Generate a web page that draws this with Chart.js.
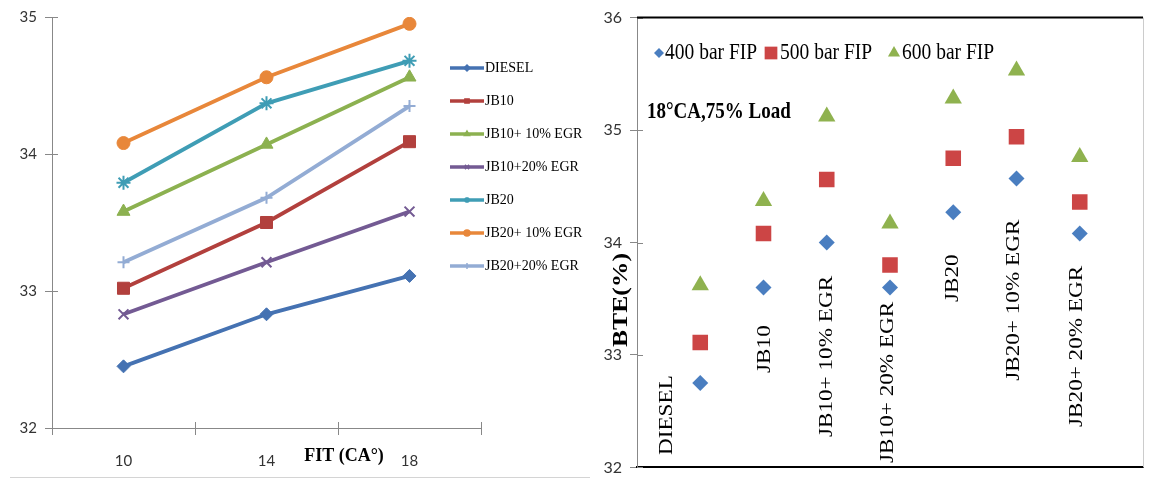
<!DOCTYPE html>
<html>
<head>
<meta charset="utf-8">
<script src="https://cdn.jsdelivr.net/npm/chart.js@4.4.1/dist/chart.umd.min.js"></script>
<style>
html,body{margin:0;padding:0;background:#fff;}
#wrap{position:relative;width:1154px;height:479px;overflow:hidden;background:#fff;}
#left{position:absolute;left:0;top:0;}
#right{position:absolute;left:590px;top:0;}
#rule{position:absolute;left:10px;top:477px;width:580px;height:1px;background:#d4d4d4;}
</style>
</head>
<body>
<div id="wrap">
  <canvas id="left" width="590" height="479"></canvas>
  <canvas id="right" width="564" height="485"></canvas>
  <div id="rule"></div>
</div>
<script>
// left chart: BTE vs FIT
const fitLabels = ['10','14','18'];
const leftNames = ['DIESEL','JB10','JB10+ 10% EGR','JB10+20% EGR','JB20','JB20+ 10% EGR','JB20+20% EGR'];
const diesel    = [32.45, 32.83, 33.11];
const jb10      = [33.02, 33.50, 34.09];
const jb10egr10 = [33.58, 34.07, 34.56];
const jb10egr20 = [32.83, 33.21, 33.58];
const jb20      = [33.79, 34.37, 34.68];
const jb20egr10 = [34.08, 34.56, 34.95];
const jb20egr20 = [33.21, 33.68, 34.35];

// right chart: BTE per fuel at 18 CA
const fuelLabels = ['DIESEL','JB10','JB10+ 10% EGR','JB10+ 20% EGR','JB20','JB20+ 10% EGR','JB20+ 20% EGR'];
const fip400 = [32.75, 33.60, 34.00, 33.60, 34.27, 34.57, 34.08];
const fip500 = [33.11, 34.08, 34.56, 33.80, 34.75, 34.94, 34.36];
const fip600 = [33.62, 34.37, 35.12, 34.17, 35.28, 35.53, 34.76];
const labelAt   = [0.48, 2.03, 3.0, 3.97, 5.0, 5.96, 6.95];
const labelBase = [32.11, 32.84, 32.27, 32.04, 33.47, 32.77, 32.36];

const SERIF = '"Liberation Serif","Times New Roman",serif';
const SANS = 'Lato, "Liberation Sans", sans-serif';
const SY = 1.22; // right picture is taller than wide

const leftSets = [
  {name:leftNames[0], data:diesel,    color:'#4572B2', style:'rectRot',  r:6.5, bw:1},
  {name:leftNames[1], data:jb10,      color:'#B2403D', style:'rect',     r:8.5, bw:1},
  {name:leftNames[2], data:jb10egr10, color:'#8CB150', style:'triangle', r:7.5, bw:1},
  {name:leftNames[3], data:jb10egr20, color:'#735A93', style:'crossRot', r:7,   bw:2},
  {name:leftNames[4], data:jb20,      color:'#3F9DB5', style:'star',     r:7,   bw:2},
  {name:leftNames[5], data:jb20egr10, color:'#E8873A', style:'circle',   r:6.5, bw:1},
  {name:leftNames[6], data:jb20egr20, color:'#93ACD4', style:'cross',    r:6,   bw:2}
];

function stretchText(ctx, t, x, y, font, rot, align, sy){
  ctx.save();
  ctx.translate(x, y);
  ctx.scale(1, sy);
  ctx.rotate(rot);
  ctx.font = font;
  ctx.textAlign = align;
  ctx.textBaseline = 'middle';
  ctx.fillStyle = '#000';
  ctx.fillText(t, 0, 0);
  ctx.restore();
}

// tick marks in the source cross the axis line, so add the inner half
function innerTicks(chart, withX){
  const {ctx, chartArea:a, scales:{x, y}} = chart;
  ctx.save();
  ctx.strokeStyle = '#888'; ctx.lineWidth = 1;
  ctx.beginPath();
  y.ticks.forEach(t=>{
    const py = Math.round(y.getPixelForValue(t.value)) + 0.5;
    ctx.moveTo(a.left, py); ctx.lineTo(a.left + 6, py);
  });
  if (withX) {
    for (let i = 0; i <= x.ticks.length; i++) {
      const px = Math.round(x.getPixelForValue(i - 0.5)) + 0.5;
      ctx.moveTo(px, a.bottom); ctx.lineTo(px, a.bottom - 6);
    }
  }
  ctx.stroke();
  ctx.restore();
}

const leftDeco = {
  id:'leftDeco',
  afterDraw(chart){
    const ctx = chart.ctx;
    innerTicks(chart, true);
    leftSets.forEach((s,i)=>{
      const y = 68 + i*33;
      ctx.save();
      ctx.strokeStyle = s.color; ctx.fillStyle = s.color; ctx.lineWidth = 3.5;
      ctx.beginPath(); ctx.moveTo(450,y); ctx.lineTo(484,y); ctx.stroke();
      ctx.lineWidth = 1.5;
      Chart.helpers.drawPoint(ctx, {pointStyle:s.style, radius:3, borderWidth:1.5, rotation:0}, 467, y);
      ctx.restore();
      stretchText(ctx, s.name, 485, y, '14px '+SERIF, 0, 'left', 1.1);
    });
    stretchText(ctx, 'FIT (CA°)', 344, 456, 'bold 18px '+SERIF, 0, 'center', 1.05);
  }
};

new Chart(document.getElementById('left'), {
  type:'line',
  data:{
    labels:fitLabels,
    datasets:leftSets.map(s=>({
      label:s.name, data:s.data, borderColor:s.color, backgroundColor:s.color,
      borderWidth:3.8, pointStyle:s.style, pointRadius:s.r, pointBorderWidth:s.bw, tension:0
    }))
  },
  options:{
    responsive:false, animation:false,
    layout:{padding:{left:0,right:109,top:16,bottom:0}},
    plugins:{legend:{display:false}, tooltip:{enabled:false}},
    scales:{
      x:{offset:true,
         grid:{offset:true, drawOnChartArea:false, tickLength:7, color:'#888'},
         border:{color:'#888'},
         ticks:{font:{family:SANS,size:15}, color:'#333', padding:17},
         afterFit:s=>{s.height=51;}},
      y:{min:32, max:35,
         ticks:{stepSize:1, font:{family:SANS,size:15}, color:'#333', padding:8},
         grid:{drawOnChartArea:false, tickLength:7, color:'#888'},
         border:{color:'#888'},
         afterFit:s=>{s.width=52;}}
    }
  },
  plugins:[leftDeco]
});

const rightDeco = {
  id:'rightDeco',
  afterDraw(chart){
    const {ctx, chartArea:a, scales:{x, y}} = chart;
    innerTicks(chart, false);
    ctx.save();
    ctx.strokeStyle = '#000'; ctx.lineWidth = 2;
    ctx.beginPath(); ctx.moveTo(a.left, a.top); ctx.lineTo(a.right, a.top); ctx.stroke();
    ctx.strokeStyle = '#ccc'; ctx.lineWidth = 1;
    ctx.beginPath(); ctx.moveTo(a.right+0.5, a.top); ctx.lineTo(a.right+0.5, a.bottom); ctx.stroke();
    ctx.restore();

    fuelLabels.forEach((t,i)=>{
      stretchText(ctx, t, x.getPixelForValue(labelAt[i]), y.getPixelForValue(labelBase[i]),
        '19px '+SERIF, -Math.PI/2, 'left', SY);
    });

    // legend
    const items = [
      {t:'400 bar FIP', c:'#4A7EC0', s:'rectRot', r:5,   mx:69,  tx:75},
      {t:'500 bar FIP', c:'#CC4545', s:'rect',    r:9,   mx:181, tx:190},
      {t:'600 bar FIP', c:'#8FB24F', s:'triangle',r:7,   mx:304, tx:312}
    ];
    items.forEach(it=>{
      ctx.save();
      ctx.fillStyle = it.c; ctx.strokeStyle = it.c;
      Chart.helpers.drawPoint(ctx, {pointStyle:it.s, radius:it.r, borderWidth:0, rotation:0}, it.mx, 53);
      ctx.restore();
      stretchText(ctx, it.t, it.tx, 53, '19.5px '+SERIF, 0, 'left', SY);
    });

    stretchText(ctx, '18°CA,75% Load', 57, 112, 'bold 19px '+SERIF, 0, 'left', SY);
    stretchText(ctx, 'BTE(%)', 32, 300, 'bold 21px '+SERIF, -Math.PI/2, 'center', SY);
  }
};

const toPts = arr => arr.map((v,i)=>({x:i+1, y:v}));

new Chart(document.getElementById('right'), {
  type:'scatter',
  data:{datasets:[
    {label:'400 bar FIP', data:toPts(fip400), pointStyle:'rectRot',  pointRadius:8,  backgroundColor:'#4A7EC0', borderColor:'#4A7EC0', pointBorderWidth:0},
    {label:'500 bar FIP', data:toPts(fip500), pointStyle:'rect',     pointRadius:11, backgroundColor:'#CC4545', borderColor:'#CC4545', pointBorderWidth:0},
    {label:'600 bar FIP', data:toPts(fip600), pointStyle:'triangle', pointRadius:10, backgroundColor:'#8FB24F', borderColor:'#8FB24F', pointBorderWidth:0}
  ]},
  options:{
    responsive:false, animation:false,
    layout:{padding:{left:0,right:1,top:17,bottom:0}},
    plugins:{legend:{display:false}, tooltip:{enabled:false}},
    scales:{
      x:{type:'linear', min:0, max:8,
         ticks:{display:false}, grid:{display:false},
         border:{display:true, color:'#000', width:2},
         afterFit:s=>{s.height=12;}},
      y:{min:32, max:36,
         ticks:{stepSize:1, font:{family:SANS,size:16}, color:'#333', padding:8},
         grid:{drawOnChartArea:false, tickLength:7, color:'#888'},
         border:{color:'#888'},
         afterFit:s=>{s.width=47;}}
    }
  },
  plugins:[rightDeco]
});
</script>
</body>
</html>
